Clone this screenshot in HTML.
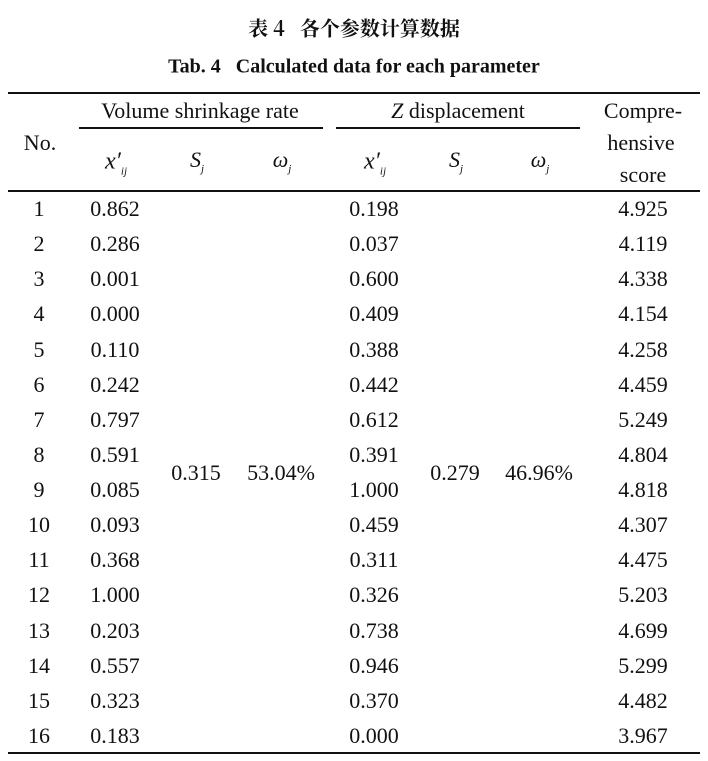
<!DOCTYPE html>
<html><head><meta charset="utf-8"><style>
body{margin:0;width:708px;height:761px;background:#fff;position:relative;font-family:"Liberation Serif","Noto Serif CJK SC",serif;color:#111;overflow:hidden}
.t{position:absolute;transform:translate(-50%,-50%);white-space:nowrap;font-size:22px}
.r{position:absolute;background:#111}
i{font-style:italic}
sub{font-size:11px;font-style:italic}
</style></head><body>
<div class="t" style="left:354px;top:27px;font-size:20px;font-weight:bold;font-family:'Noto Serif CJK SC','Noto Sans CJK SC',serif">表 4&nbsp;&nbsp;&nbsp;各个参数计算数据</div>
<div class="t" style="left:354px;top:67px;font-size:20px;font-weight:bold">Tab. 4&nbsp;&nbsp;&nbsp;Calculated data for each parameter</div>
<div class="r" style="left:8px;top:92px;width:692px;height:2px"></div>
<div class="r" style="left:79px;top:127px;width:244px;height:1.5px"></div>
<div class="r" style="left:336px;top:127px;width:244px;height:1.5px"></div>
<div class="r" style="left:8px;top:190px;width:692px;height:2px"></div>
<div class="r" style="left:8px;top:752px;width:692px;height:2px"></div>
<div class="t" style="left:200px;top:111px">Volume shrinkage rate</div>
<div class="t" style="left:458px;top:111px"><i>Z</i> displacement</div>
<div class="t" style="left:40px;top:143px">No.</div>
<div class="t" style="left:643px;top:111px">Compre-</div>
<div class="t" style="left:641px;top:143px">hensive</div>
<div class="t" style="left:643px;top:175px">score</div>
<div class="t" style="left:116px;top:163px;font-size:24px"><i>x′</i><sub>ij</sub></div>
<div class="t" style="left:197px;top:161px"><i>S</i><sub>j</sub></div>
<div class="t" style="left:282px;top:161px"><i>ω</i><sub>j</sub></div>
<div class="t" style="left:375px;top:163px;font-size:24px"><i>x′</i><sub>ij</sub></div>
<div class="t" style="left:456px;top:161px"><i>S</i><sub>j</sub></div>
<div class="t" style="left:540px;top:161px"><i>ω</i><sub>j</sub></div>
<div class="t" style="left:196px;top:473px">0.315</div>
<div class="t" style="left:281px;top:473px">53.04%</div>
<div class="t" style="left:455px;top:473px">0.279</div>
<div class="t" style="left:539px;top:473px">46.96%</div>
<div id="rows"></div>
<script>
var d=[["0.862","0.198","4.925"],["0.286","0.037","4.119"],["0.001","0.600","4.338"],["0.000","0.409","4.154"],["0.110","0.388","4.258"],["0.242","0.442","4.459"],["0.797","0.612","5.249"],["0.591","0.391","4.804"],["0.085","1.000","4.818"],["0.093","0.459","4.307"],["0.368","0.311","4.475"],["1.000","0.326","5.203"],["0.203","0.738","4.699"],["0.557","0.946","5.299"],["0.323","0.370","4.482"],["0.183","0.000","3.967"]];
var h="";d.forEach(function(r,i){var y=209+i*35.13;
h+='<div class="t" style="left:39px;top:'+y+'px">'+(i+1)+'</div>';
h+='<div class="t" style="left:115px;top:'+y+'px">'+r[0]+'</div>';
h+='<div class="t" style="left:374px;top:'+y+'px">'+r[1]+'</div>';
h+='<div class="t" style="left:643px;top:'+y+'px">'+r[2]+'</div>';});
document.getElementById("rows").innerHTML=h;
</script>
</body></html>
